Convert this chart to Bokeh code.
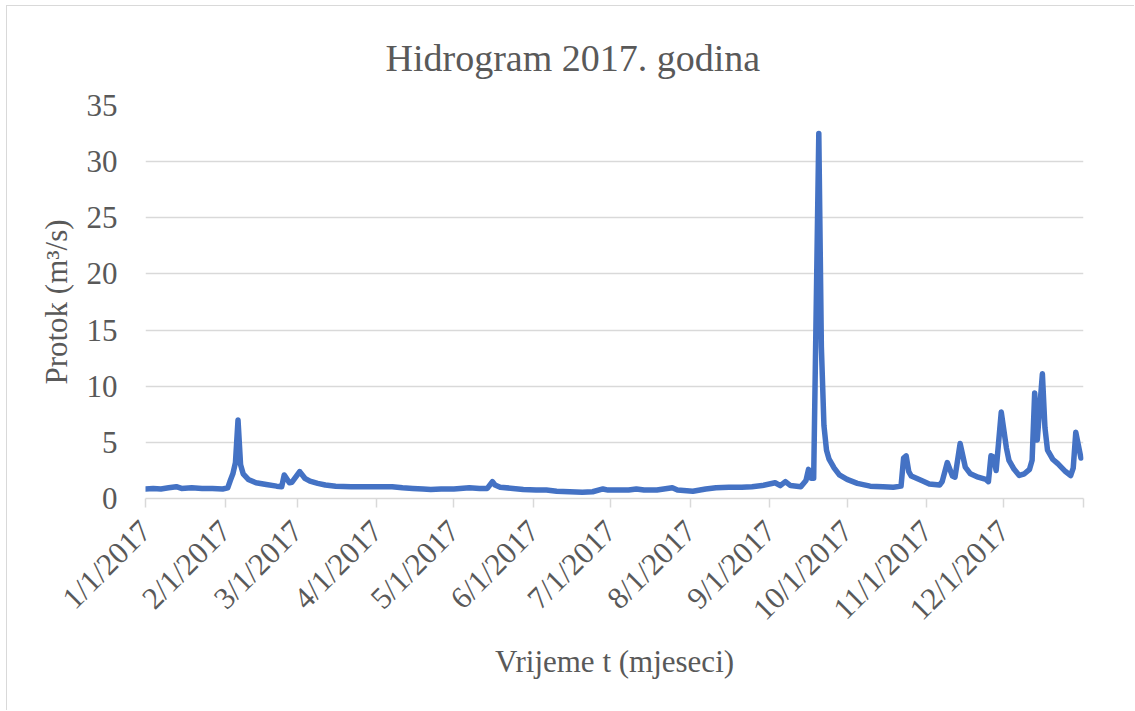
import pandas as pd
from math import pi
from bokeh.plotting import figure
from bokeh.models import ColumnDataSource, FixedTicker, Range1d
from bokeh.embed import file_html
from bokeh.resources import INLINE

# ---- data ----
dates = [
    "2017-01-01", "2017-01-04", "2017-01-07", "2017-01-10", "2017-01-13", "2017-01-15",
    "2017-01-19", "2017-01-23", "2017-01-27", "2017-01-31", "2017-02-02", "2017-02-03",
    "2017-02-04", "2017-02-05", "2017-02-06", "2017-02-07", "2017-02-08", "2017-02-10",
    "2017-02-13", "2017-02-17", "2017-02-21", "2017-02-23", "2017-02-24", "2017-02-26",
    "2017-02-27", "2017-03-02", "2017-03-04", "2017-03-06", "2017-03-09", "2017-03-12",
    "2017-03-16", "2017-03-22", "2017-04-01", "2017-04-07", "2017-04-11", "2017-04-15",
    "2017-04-19", "2017-04-22", "2017-04-26", "2017-05-01", "2017-05-07", "2017-05-11",
    "2017-05-14", "2017-05-16", "2017-05-17", "2017-05-19", "2017-05-24", "2017-05-28",
    "2017-06-02", "2017-06-06", "2017-06-10", "2017-06-15", "2017-06-20", "2017-06-24",
    "2017-06-28", "2017-06-30", "2017-07-04", "2017-07-08", "2017-07-11", "2017-07-14",
    "2017-07-19", "2017-07-25", "2017-07-27", "2017-08-02", "2017-08-07", "2017-08-11",
    "2017-08-16", "2017-08-21", "2017-08-25", "2017-08-29", "2017-09-03", "2017-09-05",
    "2017-09-07", "2017-09-09", "2017-09-13", "2017-09-15", "2017-09-16", "2017-09-17",
    "2017-09-18", "2017-09-20", "2017-09-21", "2017-09-22", "2017-09-23", "2017-09-24",
    "2017-09-26", "2017-09-28", "2017-10-01", "2017-10-05", "2017-10-10", "2017-10-15",
    "2017-10-19", "2017-10-22", "2017-10-23", "2017-10-24", "2017-10-25", "2017-10-26",
    "2017-10-28", "2017-10-30", "2017-11-02", "2017-11-06", "2017-11-07", "2017-11-09",
    "2017-11-11", "2017-11-12", "2017-11-14", "2017-11-16", "2017-11-18", "2017-11-21",
    "2017-11-24", "2017-11-25", "2017-11-26", "2017-11-27", "2017-11-28", "2017-11-30",
    "2017-12-02", "2017-12-03", "2017-12-05", "2017-12-07", "2017-12-09", "2017-12-11",
    "2017-12-12", "2017-12-13", "2017-12-14", "2017-12-16", "2017-12-17", "2017-12-18",
    "2017-12-20", "2017-12-22", "2017-12-25", "2017-12-27", "2017-12-28", "2017-12-29",
    "2017-12-31",
]
flow = [
    0.85, 0.9, 0.85, 0.95, 1.05, 0.9,
    0.95, 0.9, 0.9, 0.85, 0.95, 1.6,
    2.2, 3.2, 7.0, 3.0, 2.2, 1.7,
    1.4, 1.25, 1.1, 1.05, 2.1, 1.4,
    1.45, 2.4, 1.8, 1.55, 1.35, 1.2,
    1.1, 1.05, 1.05, 1.05, 0.95, 0.9,
    0.85, 0.8, 0.85, 0.85, 0.95, 0.9,
    0.9, 1.5, 1.2, 1.0, 0.9, 0.8,
    0.75, 0.75, 0.65, 0.6, 0.55, 0.6,
    0.85, 0.75, 0.75, 0.75, 0.85, 0.75,
    0.75, 0.95, 0.75, 0.65, 0.85, 0.95,
    1.0, 1.0, 1.05, 1.15, 1.4, 1.15,
    1.5, 1.15, 1.05, 1.6, 2.6, 1.8,
    1.8, 32.5, 13.5, 6.5, 4.3, 3.5,
    2.7, 2.1, 1.7, 1.35, 1.1, 1.05,
    1.0, 1.1, 3.6, 3.8, 2.4, 2.0,
    1.8, 1.6, 1.3, 1.2, 1.5, 3.2,
    2.0, 1.9, 4.9, 2.8, 2.2, 1.9,
    1.7, 1.5, 3.8, 3.7, 2.5, 7.7,
    4.5, 3.4, 2.6, 2.05, 2.2, 2.6,
    3.4, 9.4, 5.2, 11.1, 6.3, 4.3,
    3.5, 3.1, 2.4, 2.05, 2.7, 5.9,
    3.6,
]
tick_dates = [
    "2017-01-01", "2017-02-01", "2017-03-01", "2017-04-01", "2017-05-01", "2017-06-01",
    "2017-07-01", "2017-08-01", "2017-09-01", "2017-10-01", "2017-11-01", "2017-12-01",
    "2018-01-01",
]
tick_labels = [
    "1/1/2017", "2/1/2017", "3/1/2017", "4/1/2017", "5/1/2017", "6/1/2017",
    "7/1/2017", "8/1/2017", "9/1/2017", "10/1/2017", "11/1/2017", "12/1/2017", "",
]
y_ticks = [0, 5, 10, 15, 20, 25, 30, 35]

title_text = "Hidrogram 2017. godina"
x_title = "Vrijeme t (mjeseci)"
y_title = "Protok (m\u00b3/s)"

# ---- build ----
start = pd.Timestamp("2017-01-01")
day = [(pd.Timestamp(d) - start).days for d in dates]
tick_days = [(pd.Timestamp(d) - start).days for d in tick_dates]

src = ColumnDataSource(dict(day=day, flow=flow))

FONT = "Liberation Serif"
GREY = "#595959"
GRID = "#d9d9d9"

p = figure(
    width=1128, height=705, output_backend="svg", toolbar_location=None,
    x_range=Range1d(0, tick_days[-1]), y_range=Range1d(y_ticks[0], y_ticks[-1]),
    min_border_left=138, min_border_right=52, min_border_top=99, min_border_bottom=213,
)
p.outline_line_color = None
p.background_fill_color = "white"
p.border_fill_color = "white"
p.styles = {
    "margin-left": "6px", "margin-top": "5px",
    "border-left": "1px solid #d9d9d9", "border-top": "1px solid #d9d9d9",
}

p.line("day", "flow", source=src, line_color="#4472C4", line_width=5.5,
       line_join="round", line_cap="round")

# title
p.title.text = title_text
p.title.align = "left"
p.title.offset = 240
p.title.vertical_align = "top"
p.title.text_font = FONT
p.title.text_font_size = "38px"
p.title.text_font_style = "normal"
p.title.text_color = GREY
try:
    p.title.standoff = 50
except Exception:
    pass

# y axis
p.yaxis.ticker = FixedTicker(ticks=y_ticks)
p.yaxis.axis_line_color = None
p.yaxis.major_tick_line_color = None
p.yaxis.minor_tick_line_color = None
p.yaxis.major_tick_out = 0
p.yaxis.major_tick_in = 0
p.yaxis.major_label_standoff = 28
p.yaxis.major_label_text_font = FONT
p.yaxis.major_label_text_font_size = "31px"
p.yaxis.major_label_text_color = GREY
p.yaxis.axis_label = y_title
p.yaxis.axis_label_standoff = 10
p.yaxis.axis_label_text_font = FONT
p.yaxis.axis_label_text_font_size = "31px"
p.yaxis.axis_label_text_font_style = "normal"
p.yaxis.axis_label_text_color = GREY

# x axis
p.xaxis.ticker = FixedTicker(ticks=tick_days)
p.xaxis.major_label_overrides = {d: l for d, l in zip(tick_days, tick_labels)}
p.xaxis.major_label_orientation = pi / 4
p.xaxis.axis_line_color = GRID
p.xaxis.axis_line_width = 1.5
p.xaxis.major_tick_line_color = GRID
p.xaxis.major_tick_line_width = 1.5
p.xaxis.major_tick_out = 9
p.xaxis.major_tick_in = 0
p.xaxis.minor_tick_line_color = None
p.xaxis.major_label_standoff = 18
p.xaxis.major_label_text_font = FONT
p.xaxis.major_label_text_font_size = "31px"
p.xaxis.major_label_text_color = GREY
p.xaxis.axis_label = x_title
p.xaxis.axis_label_standoff = 2
p.xaxis.axis_label_text_font = FONT
p.xaxis.axis_label_text_font_size = "31px"
p.xaxis.axis_label_text_font_style = "normal"
p.xaxis.axis_label_text_color = GREY

p.xgrid.grid_line_color = None
p.ygrid.grid_line_color = GRID
p.ygrid.grid_line_width = 1.5

open("out.html", "w").write(file_html(p, INLINE))
